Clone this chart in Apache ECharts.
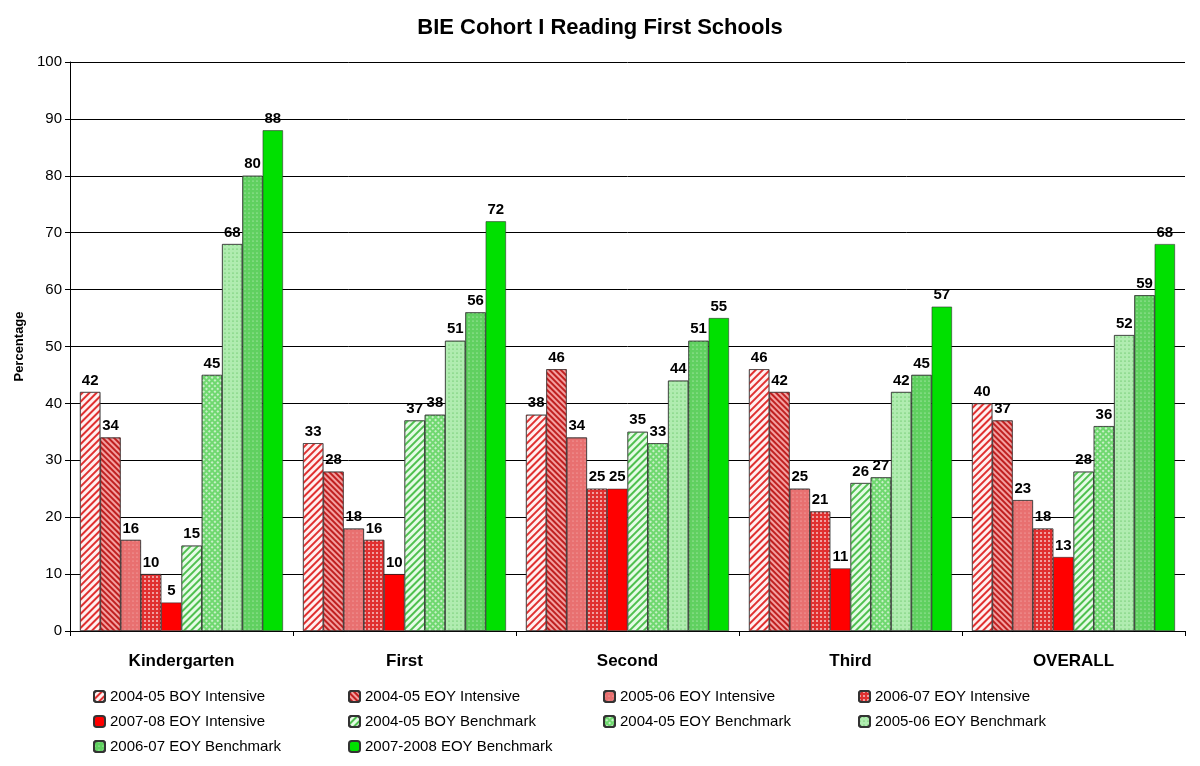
<!DOCTYPE html>
<html><head><meta charset="utf-8">
<script src="https://cdn.jsdelivr.net/npm/echarts@6/dist/echarts.min.js"></script>
<style>html,body{margin:0;padding:0;background:#fff}#c{width:1200px;height:766px}</style>
</head><body><div id="c"></div>
<script>
const categories = ['Kindergarten','First','Second','Third','OVERALL'];
const seriesNames = ['2004-05 BOY Intensive','2004-05 EOY Intensive','2005-06 EOY Intensive','2006-07 EOY Intensive','2007-08 EOY Intensive','2004-05 BOY Benchmark','2004-05 EOY Benchmark','2005-06 EOY Benchmark','2006-07 EOY Benchmark','2007-2008 EOY Benchmark'];
const s1 = [42,33,38,46,40];
const s2 = [34,28,46,42,37];
const s3 = [16,18,34,25,23];
const s4 = [10,16,25,21,18];
const s5 = [5,10,25,11,13];
const s6 = [15,37,35,26,28];
const s7 = [45,38,33,27,36];
const s8 = [68,51,44,42,52];
const s9 = [80,56,51,45,59];
const s10 = [88,72,55,57,68];
const values = [s1,s2,s3,s4,s5,s6,s7,s8,s9,s10];

const styles = [
 {color:'#fff0f0', decal:{symbol:'rect',color:'#e03030',dashArrayX:[1,0],dashArrayY:[2,3],rotation:-Math.PI/4}},
 {color:'#f4a0a0', decal:{symbol:'rect',color:'#c02020',dashArrayX:[1,0],dashArrayY:[2,2],rotation:Math.PI/4}},
 {color:'#e87070', decal:{symbol:'circle',symbolSize:0.6,color:'#f8c0c0',dashArrayX:[[2,2]],dashArrayY:[2,2]}},
 {color:'#e03030', decal:{symbol:'rect',color:'#f0a0a0',dashArrayX:[[2,2]],dashArrayY:[2,2]}},
 {color:'#ff0000', decal:null},
 {color:'#e6fbe6', decal:{symbol:'rect',color:'#50c050',dashArrayX:[1,0],dashArrayY:[2,3],rotation:-Math.PI/4}},
 {color:'#70d870', decal:{symbol:'rect',color:'#c8f0c8',dashArrayX:[[2,2]],dashArrayY:[2,2],rotation:Math.PI/4}},
 {color:'#b0ecb0', decal:{symbol:'circle',symbolSize:0.6,color:'#40b040',dashArrayX:[[2,2]],dashArrayY:[2,2]}},
 {color:'#60d060', decal:{symbol:'circle',symbolSize:0.6,color:'#d8f8d8',dashArrayX:[[2,2]],dashArrayY:[2,2]}},
 {color:'#00e000', decal:null}
];

const chart = echarts.init(document.getElementById('c'));
chart.setOption({
 animation:false,
 aria:{enabled:false},
 title:{text:'BIE Cohort I Reading First Schools',left:'center',top:12,textStyle:{fontFamily:'Liberation Sans',fontSize:22,fontWeight:'bold',color:'#000'}},
 grid:{left:70,right:15,top:62,bottom:135},
 legend:{left:88,top:684,width:1060,itemWidth:11,itemHeight:11,itemGap:10,
   formatter: n => '{a|' + n + '}',
   textStyle:{fontFamily:'Liberation Sans',fontSize:15,color:'#000',
     rich:{a:{width:228,fontFamily:'Liberation Sans',fontSize:15,color:'#000',lineHeight:26}}},
   data:seriesNames},
 xAxis:{type:'category',data:categories,axisLine:{lineStyle:{color:'#000'}},axisTick:{show:true,lineStyle:{color:'#000'}},
   axisLabel:{fontFamily:'Liberation Sans',fontSize:17,fontWeight:'bold',color:'#000',margin:22}},
 yAxis:{type:'value',min:0,max:100,interval:10,name:'Percentage',nameLocation:'middle',nameGap:40,
   nameTextStyle:{fontFamily:'Liberation Sans',fontSize:13,fontWeight:'bold',color:'#000'},
   axisLine:{show:true,lineStyle:{color:'#000'}},axisTick:{show:true,lineStyle:{color:'#000'}},
   splitLine:{lineStyle:{color:'#000',width:1}},
   axisLabel:{fontFamily:'Liberation Sans',fontSize:15,color:'#000'}},
 series: values.map((v,i)=>({
   name:seriesNames[i],type:'bar',data:v,barGap:'0%',barCategoryGap:'9%',
   itemStyle:{color:styles[i].color,decal:styles[i].decal||undefined,borderColor:'#333',borderWidth:0.6},
   label:{show:true,position:'top',fontFamily:'Liberation Sans',fontSize:15,fontWeight:'bold',color:'#000',distance:4}
 }))
});
</script></body></html>
